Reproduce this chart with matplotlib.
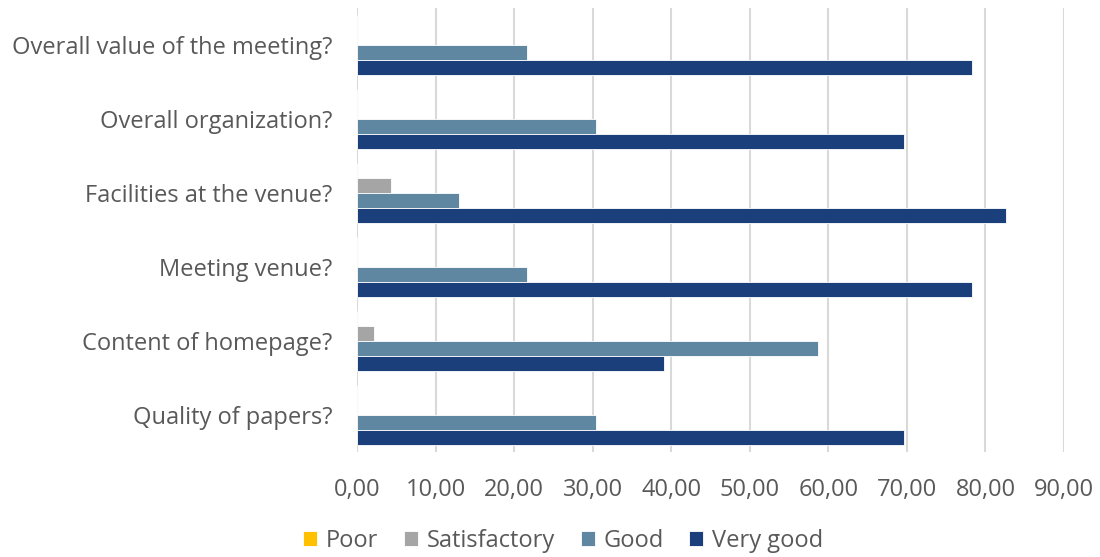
import matplotlib
matplotlib.use("Agg")
import matplotlib.pyplot as plt
import numpy as np
from matplotlib.ticker import FuncFormatter

categories = ["Quality of papers?", "Content of homepage?", "Meeting venue?",
              "Facilities at the venue?", "Overall organization?", "Overall value of the meeting?"]
series = ["Poor", "Satisfactory", "Good", "Very good"]
poor = [0, 0, 0, 0, 0, 0]
satisfactory = [0, 2.2, 0, 4.3, 0, 0]
good = [30.4, 58.7, 21.7, 13.0, 30.4, 21.7]
very_good = [69.6, 39.1, 78.3, 82.6, 69.6, 78.3]
colors = ["#FFC000", "#A5A5A5", "#5F87A1", "#1B3F7A"]

plt.rcParams['font.family'] = ['Open Sans', 'DejaVu Sans']
text_color = "#595959"

fig = plt.figure(figsize=(11, 5.57), dpi=100)
ax = fig.add_axes([357/1100, (557-452)/557, (1064-357)/1100, 444/557])

y = np.arange(len(categories))
h = 0.2025
offsets = [1.5, 0.5, -0.5, -1.5]
for vals, name, col, off in zip([poor, satisfactory, good, very_good], series, colors, offsets):
    ax.barh(y + off*h, vals, height=h, color=col, label=name, edgecolor="white", linewidth=0.6, zorder=3)

ax.set_xlim(0, 90)
ax.set_ylim(-0.5, len(categories)-0.5)
ax.set_xticks(np.arange(0, 91, 10))
ax.xaxis.set_major_formatter(FuncFormatter(lambda v, p: f"{v:.2f}".replace(".", ",")))
ax.set_yticks(y)
ax.set_yticklabels(categories)
ax.grid(axis="x", color="#D9D9D9", linewidth=1.5, zorder=0)
for s in ax.spines.values():
    s.set_visible(False)
ax.tick_params(axis="both", length=0, labelsize=17, colors=text_color)
ax.tick_params(axis="y", pad=17.5)
ax.tick_params(axis="x", pad=19)

leg = fig.legend(loc="center", bbox_to_anchor=(563/1100, 1-541/557), ncol=4, frameon=False,
                 fontsize=17, handlelength=0.6, handleheight=0.6, handletextpad=0.35,
                 columnspacing=1.1, labelcolor=text_color)

fig.savefig("out.png", dpi=100)
